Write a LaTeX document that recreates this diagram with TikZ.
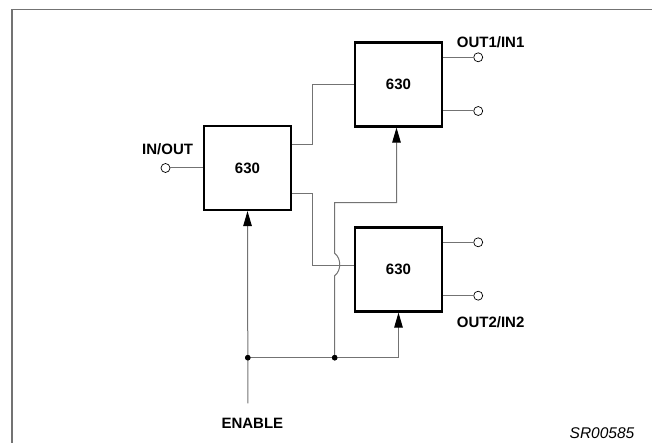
\documentclass[tikz,border=0pt]{standalone}
\usepackage{fontspec}
\setmainfont{Liberation Sans}
\usetikzlibrary{arrows.meta}
\begin{document}
\begin{tikzpicture}[x=1pt,y=-1pt,
  blockbox/.style={draw=black,line width=2.2pt,minimum width=87pt,minimum height=84pt,inner sep=0pt,
    font=\fontsize{15}{15}\selectfont\bfseries},
  wire/.style={draw=black!55,line width=1pt},
  pin/.style={circle,draw=black,line width=0.7pt,fill=white,minimum size=9pt,inner sep=0pt},
  jdot/.style={circle,fill=black,minimum size=5.5pt,inner sep=0pt},
  lbl/.style={font=\fontsize{15}{15}\selectfont\bfseries,inner sep=0pt},
  tipA/.style={-{Triangle[length=15pt,width=8.5pt,color=black]}}]
\useasboundingbox (0,0) rectangle (652,443);
% frame
\draw[draw=black!55,line width=1.2pt] (12,445) -- (12,9.5) -- (654,9.5);
% blocks
\node[blockbox] (b1) at (247.5,168) {630};
\node[blockbox] (b2) at (398.5,84.5) {630};
\node[blockbox] (b3) at (398.5,269.5) {630};
% pins
\node[pin] (pin) at (165.5,168) {};
\node[pin] (o1) at (478.2,57.3) {};
\node[pin] (o2) at (478.2,111) {};
\node[pin] (o3) at (478.2,242.3) {};
\node[pin] (o4) at (478.2,295.7) {};
% junctions
\node[jdot] (d1) at (247.8,357.7) {};
\node[jdot] (d2) at (334.7,357.7) {};
\coordinate (en) at (247.8,403.3);
\coordinate (jl) at (334.7,275.7);
\coordinate (jh) at (334.7,253.3);
\coordinate (bend) at (334.7,202.7);
% labels
\node[lbl] (tin) at (167.6,149.7) {IN/OUT};
\node[lbl] (tout1) at (490.6,42.7) {OUT1/IN1};
\node[lbl] (tout2) at (490.6,322) {OUT2/IN2};
\node[lbl] (ten) at (252.4,423.3) {ENABLE};
\node[inner sep=0pt,font=\fontsize{15.5}{15.5}\selectfont\itshape] (sr) at (602,433) {SR00585};
% wires
\draw[wire] (pin) -- (b1.west);
\draw[wire] ([yshift=23pt]b1.east) -- ++(20.8,0) |- (b2.west);
\draw[wire] ([yshift=-25.3pt]b1.east) -- ++(20.8,0) |- ([yshift=4.5pt]b3.west);
\draw[wire] (b2.east |- o1) -- (o1);
\draw[wire] (b2.east |- o2) -- (o2);
\draw[wire] (b3.east |- o3) -- (o3);
\draw[wire] (b3.east |- o4) -- (o4);
\draw[wire,tipA] (en) -- (d1.center) -- (b1.south);
\draw[wire,tipA] (d1.center) -- (d2.center) -| (b3.south);
\draw[wire,tipA] (d2.center) -- (jl) .. controls ++(6.7,-5) and ++(6.7,5) .. (jh) -- (bend) -| ([xshift=-2pt]b2.south);
\node[jdot] at (d1) {};
\node[jdot] at (d2) {};
\end{tikzpicture}
\end{document}
